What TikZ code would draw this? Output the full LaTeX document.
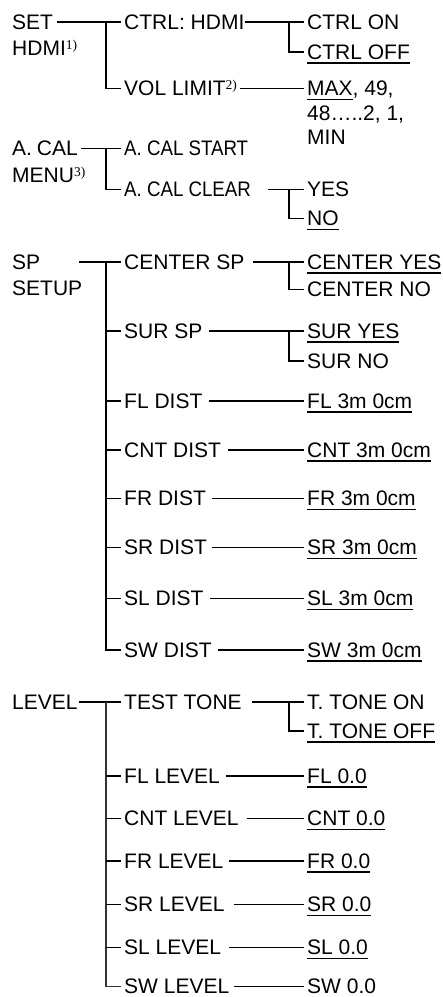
\documentclass[tikz,border=0pt]{standalone}
\usepackage{fontspec}
\setmainfont{Liberation Sans}
\newfontfamily\notefont{Liberation Serif}
\newcommand{\undl}[1]{\setbox0\hbox{#1}\rlap{\rule[-4.5pt]{\wd0}{1.8pt}}\box0}
\newcommand{\refmark}[1]{\raisebox{6pt}{\fontsize{13.5}{13.5}\selectfont\notefont #1}}
\newcommand{\narrowtext}[1]{\scalebox{0.89}[1]{#1}}
\tikzset{
  item/.style={anchor=west, inner sep=3pt, text height=15pt, text depth=0pt, font=\fontsize{21}{25}\selectfont},
  link/.style={line width=1.6pt},
  thinlink/.style={line width=1.1pt, black!80},
}
\begin{document}
\begin{tikzpicture}[x=1pt,y=-1pt]
\useasboundingbox (0,0) rectangle (443,997);

\node[item] (set) at (9,21.7) {SET};
\node[item] (set2) at (9,48.3) {HDMI\refmark{1)}};
\node[item] (ctrl) at (121,21.7) {CTRL: HDMI};
\node[item] (vol) at (121,88.3) {VOL LIMIT\refmark{2)}};
\node[item] (con) at (304,21.7) {CTRL ON};
\node[item] (coff) at (304,51.7) {\undl{CTRL OFF}};
\node[item] (vmax) at (304,88.3) {\undl{MAX}, 49,};
\node[item] (vmid) at (304,113.3) {48…..2, 1,};
\node[item] (vmin) at (304,137.3) {MIN};

\node[item] (acal) at (9,148.3) {A.\kern-1pt\ CAL};
\node[item] (acal2) at (9,175) {MENU\refmark{3)}};
\node[item] (acs) at (121,148.3) {\narrowtext{A. CAL START}};
\node[item] (acc) at (121,189.3) {\narrowtext{A. CAL CLEAR}};
\node[item] (yes) at (304,189.3) {YES};
\node[item] (no) at (304,218.3) {\undl{NO}};

\node[item] (sp) at (9,261.7) {SP};
\node[item] (sp2) at (9,287.7) {SETUP};
\node[item] (cen) at (121,261.7) {CENTER SP};
\node[item] (cyes) at (304,261.7) {\undl{CENTER YES}};
\node[item] (cno) at (304,289.3) {CENTER NO};
\node[item] (sur) at (121,330.7) {SUR SP};
\node[item] (syes) at (304,330.7) {\undl{SUR YES}};
\node[item] (sno) at (304,360.7) {SUR NO};
\node[item] (fld) at (121,401) {FL DIST};
\node[item] (flv) at (304,401) {\undl{FL 3m 0cm}};
\node[item] (cntd) at (121,450) {CNT DIST};
\node[item] (cntv) at (304,450) {\undl{CNT 3m 0cm}};
\node[item] (frd) at (121,498.3) {FR DIST};
\node[item] (frv) at (304,498.3) {\undl{FR 3m 0cm}};
\node[item] (srd) at (121,547.3) {SR DIST};
\node[item] (srv) at (304,547.3) {\undl{SR 3m 0cm}};
\node[item] (sld) at (121,598.3) {SL DIST};
\node[item] (slv) at (304,598.3) {\undl{SL 3m 0cm}};
\node[item] (swd) at (121,650) {SW DIST};
\node[item] (swv) at (304,650) {\undl{SW 3m 0cm}};

\node[item] (level) at (9,701.7) {LEVEL};
\node[item] (tt) at (121,701.7) {TEST TONE};
\node[item] (ton) at (304,701.7) {T. TONE ON};
\node[item] (toff) at (304,730.7) {\undl{T. TONE OFF}};
\node[item] (fll) at (121,775.7) {FL LEVEL};
\node[item] (fllv) at (304,775.7) {\undl{FL 0.0}};
\node[item] (cntl) at (121,818.3) {CNT LEVEL};
\node[item] (cntlv) at (304,818.3) {\undl{CNT 0.0}};
\node[item] (frl) at (121,860.7) {FR LEVEL};
\node[item] (frlv) at (304,860.7) {\undl{FR 0.0}};
\node[item] (srl) at (121,904.3) {SR LEVEL};
\node[item] (srlv) at (304,904.3) {\undl{SR 0.0}};
\node[item] (sll) at (121,947.3) {SL LEVEL};
\node[item] (sllv) at (304,947.3) {\undl{SL 0.0}};
\node[item] (swl) at (121,986.3) {SW LEVEL};
\node[item] (swlv) at (304,986.3) {SW 0.0};

\draw[link] ([xshift=1pt]set.east)--(ctrl.west);
\draw[link] ([xshift=-15pt]ctrl.west) |- (vol.west);
\draw[link] ([xshift=-3pt]ctrl.east)--(con.west);
\draw[link] ([xshift=-15pt]con.west) |- (coff.west);
\draw[link] (vol.east)--(vmax.west);

\draw[link] (acal.east)--(acs.west);
\draw[link] ([xshift=-15pt]acs.west) |- (acc.west);
\draw[link] ([xshift=14pt]acc.east)--(yes.west);
\draw[link] ([xshift=-15pt]yes.west) |- (no.west);

\draw[link] ([xshift=36pt]sp.east)--(cen.west);
\draw[link] ([xshift=-15pt]cen.west) |- (swd.west);
\foreach \n in {sur,fld,cntd,frd,srd,sld}
  \draw[link] ([xshift=-15pt]\n.west)--(\n.west);
\draw[link] ([xshift=5pt]cen.east)--(cyes.west);
\draw[link] ([xshift=-15pt]cyes.west) |- (cno.west);
\draw[link] ([xshift=3pt]sur.east)--(syes.west);
\draw[link] ([xshift=-15pt]syes.west) |- (sno.west);
\draw[link] ([xshift=3pt]fld.east)--(flv.west);
\draw[link] ([xshift=4pt]cntd.east)--(cntv.west);
\draw[link] ([xshift=3pt]frd.east)--(frv.west);
\draw[link] ([xshift=2pt]srd.east)--(srv.west);
\draw[link] ([xshift=3pt]sld.east)--(slv.west);
\draw[link] ([xshift=3pt]swd.east)--(swv.west);

\draw[link] ([xshift=-2pt]level.east)--(tt.west);
\draw[thinlink] ([xshift=-15pt]tt.west) |- (swl.west);
\foreach \n in {fll,cntl,frl,srl,sll}
  \draw[link] ([xshift=-15pt]\n.west)--(\n.west);
\draw[link] ([xshift=7pt]tt.east)--(ton.west);
\draw[link] ([xshift=-15pt]ton.west) |- (toff.west);
\draw[link] ([xshift=3pt]fll.east)--(fllv.west);
\draw[link] ([xshift=5pt]cntl.east)--(cntlv.west);
\draw[link] ([xshift=2pt]frl.east)--(frlv.west);
\draw[link] ([xshift=6pt]srl.east)--(srlv.west);
\draw[link] ([xshift=5pt]sll.east)--(sllv.west);
\draw[link] ([xshift=2pt]swl.east)--(swlv.west);

\end{tikzpicture}
\end{document}
